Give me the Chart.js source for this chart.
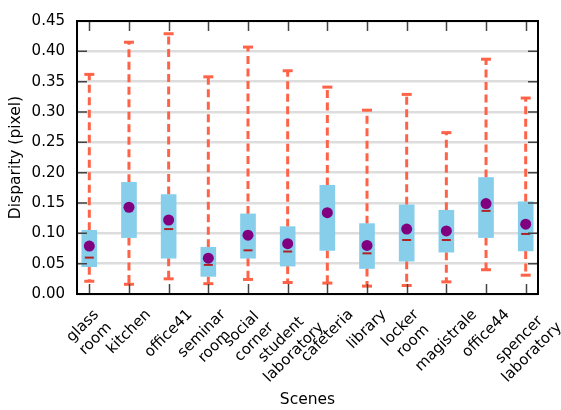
<!DOCTYPE html>
<html>
<head>
<meta charset="utf-8">
<script src="https://cdn.jsdelivr.net/npm/chart.js@4.4.1/dist/chart.umd.min.js"></script>
<style>
  html, body { margin: 0; padding: 0; background: #fff; }
  canvas { display: block; }
</style>
</head>
<body>
<canvas id="chart" width="561" height="410"></canvas>
<script>
// Scene names (one entry per line of the label)
const scenes = [
  ['glass', 'room'], ['kitchen'], ['office41'], ['seminar', 'room'],
  ['social', 'corner'], ['student', 'laboratory'], ['cafeteria'], ['library'],
  ['locker', 'room'], ['magistrale'], ['office44'], ['spencer', 'laboratory']
];

// Disparity statistics per scene (pixel)
const whiskerLow  = [0.021, 0.016, 0.025, 0.017, 0.024, 0.019, 0.018, 0.013, 0.014, 0.020, 0.040, 0.031];
const q1          = [0.045, 0.093, 0.059, 0.029, 0.059, 0.046, 0.072, 0.042, 0.054, 0.069, 0.093, 0.071];
const median      = [0.060, 0.141, 0.107, 0.048, 0.072, 0.070, 0.132, 0.067, 0.089, 0.089, 0.137, 0.099];
const q3          = [0.105, 0.184, 0.164, 0.077, 0.132, 0.111, 0.179, 0.116, 0.147, 0.138, 0.192, 0.152];
const whiskerHigh = [0.362, 0.415, 0.429, 0.358, 0.407, 0.368, 0.341, 0.303, 0.329, 0.266, 0.387, 0.323];
const mean        = [0.079, 0.143, 0.122, 0.059, 0.097, 0.083, 0.134, 0.080, 0.107, 0.104, 0.149, 0.115];

// Y axis tick values
const yTicks = [0.00, 0.05, 0.10, 0.15, 0.20, 0.25, 0.30, 0.35, 0.40, 0.45];

const FONT = "'DejaVu Sans', sans-serif";
const points = (vals) => vals.map((v, i) => ({ x: i, y: v }));

// Whiskers: one segment from each box edge out to its cap
const whiskerSegments = [];
scenes.forEach((_, i) => {
  whiskerSegments.push(
    { x: i, y: q1[i] }, { x: i, y: whiskerLow[i] }, { x: i, y: null },
    { x: i, y: q3[i] }, { x: i, y: whiskerHigh[i] }, { x: i, y: null }
  );
});

// Frame, inward ticks and rotated scene labels
const axesDecor = {
  id: 'axesDecor',
  afterDatasetsDraw(chart) {
    const { ctx, chartArea: a, scales: { x, y } } = chart;
    ctx.save();
    ctx.strokeStyle = '#444';
    ctx.lineWidth = 1.5;
    ctx.beginPath();
    scenes.forEach((_, i) => {
      const px = Math.round(x.getPixelForValue(i)) + 0.5;
      ctx.moveTo(px, a.bottom); ctx.lineTo(px, a.bottom - 10);
      ctx.moveTo(px, a.top); ctx.lineTo(px, a.top + 10);
    });
    yTicks.forEach(v => {
      const py = y.getPixelForValue(v);
      ctx.moveTo(a.left, py); ctx.lineTo(a.left + 10, py);
      ctx.moveTo(a.right, py); ctx.lineTo(a.right - 10, py);
    });
    ctx.stroke();

    ctx.strokeStyle = '#000';
    ctx.lineWidth = 2;
    ctx.strokeRect(a.left, a.top, a.right - a.left, a.bottom - a.top);

    ctx.font = '15px ' + FONT;
    ctx.fillStyle = '#000';
    ctx.textAlign = 'center';
    ctx.textBaseline = 'middle';
    const lh = 15 * 1.2;
    scenes.forEach((lines, i) => {
      const w = Math.max(...lines.map(l => ctx.measureText(l).width));
      const h = lines.length * lh;
      const side = (w + h) * Math.SQRT1_2;
      const cx = x.getPixelForValue(i);
      const cy = a.bottom + 12 + side / 2;
      ctx.save();
      ctx.translate(cx, cy);
      ctx.rotate(-Math.PI / 4);
      lines.forEach((l, k) => ctx.fillText(l, 0, -h / 2 + lh * (k + 0.5)));
      ctx.restore();
    });
    ctx.restore();
  }
};

new Chart(document.getElementById('chart'), {
  type: 'bar',
  data: {
    datasets: [
      {
        type: 'scatter',
        label: 'mean',
        data: points(mean),
        pointStyle: 'circle',
        pointRadius: 5.5,
        pointBackgroundColor: '#800080',
        pointBorderWidth: 0,
        order: 0
      },
      {
        type: 'scatter',
        label: 'median',
        data: points(median),
        pointStyle: 'line',
        pointRadius: 4.5,
        pointBorderColor: '#b22222',
        pointBorderWidth: 2,
        order: 1
      },
      {
        type: 'bar',
        label: 'quartiles',
        data: scenes.map((_, i) => ({ x: i, y: [q1[i], q3[i]] })),
        backgroundColor: '#87ceeb',
        borderWidth: 0,
        barThickness: 15,
        order: 2
      },
      {
        type: 'scatter',
        label: 'caps',
        data: points(whiskerLow).concat(points(whiskerHigh)),
        pointStyle: 'line',
        pointRadius: 5,
        pointBorderColor: '#ff6347',
        pointBorderWidth: 3,
        order: 3
      },
      {
        type: 'line',
        label: 'whiskers',
        data: whiskerSegments,
        borderColor: '#ff6347',
        borderWidth: 3,
        borderDash: [8, 4.5],
        pointRadius: 0,
        spanGaps: false,
        fill: false,
        order: 4
      }
    ]
  },
  options: {
    responsive: false,
    devicePixelRatio: 1,
    animation: false,
    layout: { padding: { top: 10, right: 23, left: 0, bottom: 0 } },
    plugins: { legend: { display: false }, tooltip: { enabled: false } },
    scales: {
      x: {
        type: 'linear',
        min: -0.31,
        max: 11.31,
        offset: false,
        grid: { display: false },
        border: { display: false },
        ticks: { display: false },
        title: {
          display: true,
          text: 'Scenes',
          color: '#000',
          font: { family: FONT, size: 15.5 },
          padding: 1
        },
        afterFit: (s) => { s.height = 116; }
      },
      y: {
        type: 'linear',
        min: 0,
        max: 0.45,
        grid: { color: '#dddddd', lineWidth: 2.5, drawTicks: false },
        border: { display: false },
        afterBuildTicks: (s) => { s.ticks = yTicks.map(v => ({ value: v })); },
        ticks: {
          color: '#000',
          padding: 12,
          font: { family: FONT, size: 15 },
          callback: (v) => Number(v).toFixed(2)
        },
        title: {
          display: true,
          text: 'Disparity (pixel)',
          color: '#000',
          font: { family: FONT, size: 15.5 },
          padding: 7
        },
        afterFit: (s) => { s.width = 77; }
      }
    }
  },
  plugins: [axesDecor]
});
</script>
</body>
</html>
